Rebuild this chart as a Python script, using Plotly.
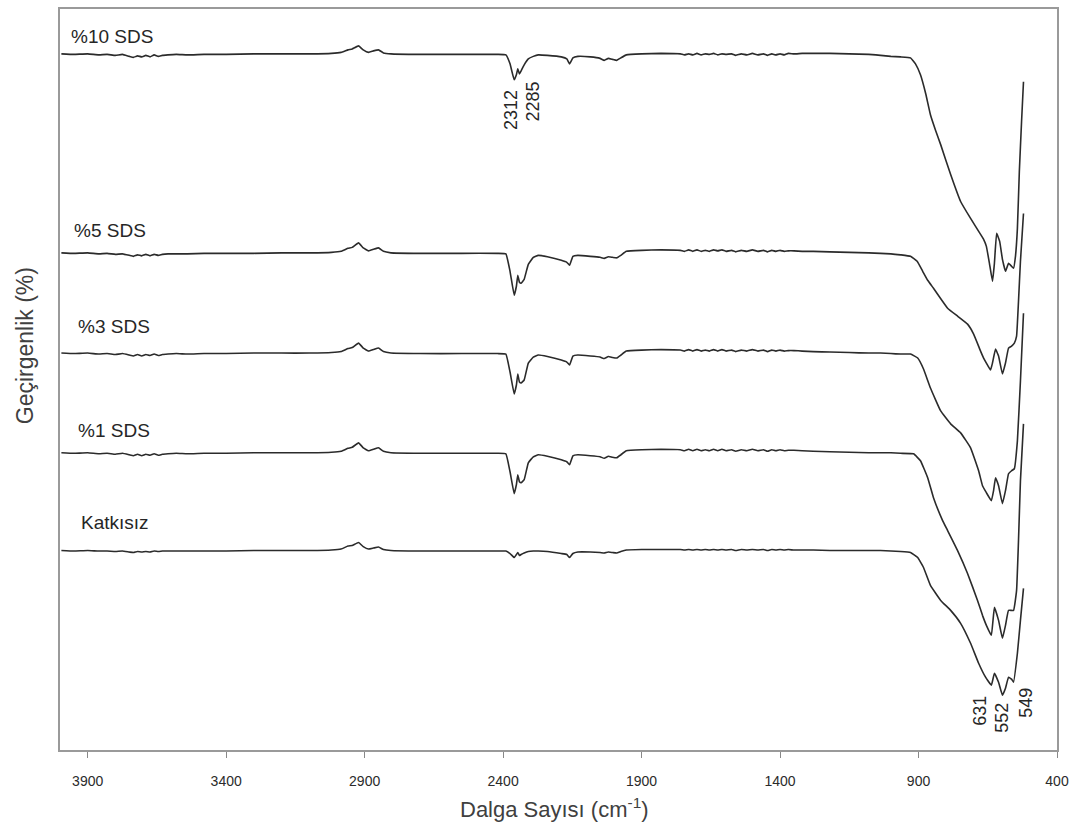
import plotly.graph_objects as go

# Common wavenumber grid for the 4000-1080 cm-1 part (cm-1)
WN_LEFT = [3995, 3950, 3900, 3860, 3830, 3800, 3775, 3750, 3735, 3720, 3705, 3690, 3675, 3660,
           3645, 3630, 3610, 3580, 3540, 3480, 3400, 3300, 3200, 3100, 3020, 2985, 2960, 2945,
           2922, 2905, 2886, 2868, 2850, 2832, 2805, 2700, 2550, 2420, 2390, 2375, 2360, 2352,
           2347, 2341, 2335, 2324, 2309, 2291, 2273, 2240, 2190, 2170, 2160, 2148, 2130, 2085,
           2050, 2035, 2020, 2005, 1990, 1975, 1955, 1900, 1830, 1760, 1745, 1730, 1715, 1700,
           1685, 1670, 1655, 1640, 1625, 1610, 1595, 1575, 1560, 1540, 1520, 1500, 1480, 1460,
           1445, 1430, 1415, 1400, 1385, 1370, 1350, 1320, 1280, 1220, 1150, 1080]

# Transmittance (arbitrary, stacked units) on WN_LEFT
T10_LEFT = [698, 697.5, 698, 697, 697.5, 696.5, 697.5, 695.5, 694.5, 696, 695, 696.5, 695, 697,
            695.5, 696.5, 697, 697.5, 697, 697.5, 697.5, 698, 698, 698, 698.5, 699.5, 702, 703,
            706, 702, 699.5, 701, 702, 699, 698, 697.5, 697.5, 697.5, 697, 688, 672, 677,
            683, 678, 681, 687, 693, 695.5, 697, 696.5, 695, 693, 688, 694, 695.5, 695,
            693.5, 691.5, 693.5, 692.5, 691.5, 694, 697, 698, 698.5, 698, 697, 698, 697, 698.5,
            697, 698, 697.5, 698.5, 697, 698, 697.5, 698, 696.5, 698, 697, 698.5, 697, 698,
            696.5, 698, 697, 698, 697, 698.5, 698, 698.5, 698.5, 698.5, 698, 697.5]
T5_LEFT = [498.5, 498, 498.5, 497.5, 498, 497, 497.5, 496, 495, 496.5, 495.5, 497, 495.5, 497,
           496, 497, 497.5, 497.5, 497.5, 498, 498, 498, 498.5, 498.5, 499, 500, 503, 504,
           508.5, 503.5, 500.5, 502, 503.5, 500, 498.5, 498, 498, 498, 497.5, 480, 456, 465,
           476, 469, 468, 472, 487, 494, 496, 494.5, 491, 489, 486, 495, 496, 495,
           494, 493, 494.5, 494, 493.5, 496, 500, 501, 501.5, 501, 500, 501.5, 500, 501.5,
           500, 501, 500, 501.5, 500.5, 501.5, 500, 501, 499.5, 501, 500, 501.5, 500, 501,
           499.5, 501, 500, 501, 500, 500.5, 500.5, 500, 500, 499.5, 499, 498.5]
T3_LEFT = [398, 397.5, 398, 397, 397.5, 396.5, 397.5, 396, 395, 396.5, 395, 396.5, 395.5, 397,
           395.5, 396.5, 397, 397.5, 397, 397.5, 397.5, 398, 398, 398, 398.5, 399.5, 402.5, 403.5,
           408, 403, 400, 401.5, 403, 399.5, 398, 397.5, 397.5, 397.5, 397, 379, 357, 366,
           377, 369, 368, 371, 388, 394, 396, 394.5, 391, 389, 386, 395, 396, 395,
           394, 392.5, 394.5, 393.5, 393, 396, 400, 401, 401.5, 401, 400, 401.5, 400, 401.5,
           400, 401, 400, 401.5, 400, 401.5, 400, 401, 399.5, 401, 400, 401.5, 400, 401,
           399.5, 401, 400, 401, 400, 400.5, 400.5, 400, 399.5, 399, 398.5, 398]
T1_LEFT = [298, 297.5, 298, 297, 297.5, 296.5, 297.5, 296, 295, 296.5, 295, 296.5, 295.5, 297,
           295.5, 296.5, 297, 297.5, 297, 297.5, 297.5, 298, 298, 298, 298.5, 299.5, 302.5, 303.5,
           308, 303, 300, 301.5, 303, 299.5, 298, 297.5, 297.5, 297.5, 297, 279, 257, 266,
           276, 269, 268, 271, 288, 294, 296, 294.5, 291, 289, 286, 295, 296, 295,
           294, 292.5, 294.5, 293.5, 293, 296, 300, 301, 301.5, 301, 300, 301.5, 300, 301.5,
           300, 301, 300, 301.5, 300, 301.5, 300, 301, 299.5, 301, 300, 301.5, 300, 301,
           299.5, 301, 300, 301, 300, 300.5, 300.5, 300, 299.5, 299, 298.5, 298]
T0_LEFT = [200, 199.5, 200, 199.5, 199.5, 199, 199.5, 198.5, 198, 199, 198.5, 199, 198.5, 199.5,
           199, 199.5, 199.5, 199.5, 199.5, 199.5, 199.5, 200, 200, 200, 200.5, 201.5, 204.5, 205,
           208, 204, 201.5, 202.5, 203.5, 201, 200, 199.5, 199.5, 199.5, 199.5, 197, 193, 196,
           198, 195, 196, 197.5, 199, 199.5, 199.5, 199, 197, 196, 193, 197, 198.5, 198.5,
           198, 197.5, 198.5, 198, 197.5, 199, 200.5, 201, 201, 201, 200.5, 201, 200.5, 201,
           200.5, 201, 200.5, 201, 200.5, 201, 200.5, 201, 200, 201, 200.5, 201, 200.5, 201,
           200, 201, 200.5, 201, 200.5, 201, 200.5, 200.5, 200.5, 200, 200, 200]

# Right-hand part (1040-520 cm-1), per sample
WN10_RIGHT = [1037, 1000, 965, 929, 911, 893, 874, 857, 838, 820, 784, 748, 712, 676, 665, 655,
              644, 633, 626, 618, 607, 597, 586, 575, 564, 557, 550, 543, 536, 528, 521]
T10_RIGHT = [696.5, 695.5, 695, 694, 688, 677, 658, 637, 621, 607, 577, 550, 533, 517, 512, 505,
             488, 470, 488, 518, 510, 492, 480, 488, 485, 483, 495, 523, 580, 630, 670]
WN5_RIGHT = [1037, 1000, 965, 929, 905, 885, 867, 846, 831, 795, 759, 723, 701, 676, 665, 655,
             640, 633, 622, 611, 597, 586, 575, 564, 554, 546, 539, 532, 521]
T5_RIGHT = [498, 497.5, 496.5, 495, 490, 480, 471, 463, 457, 443, 435, 427, 417, 400, 393, 388,
            381, 388, 402, 395, 377, 388, 403, 405, 408, 415, 450, 490, 538]
WN3_RIGHT = [1037, 1000, 965, 929, 903, 882, 857, 820, 784, 748, 712, 683, 669, 655, 637, 629,
             622, 611, 597, 586, 575, 564, 554, 543, 532, 521]
T3_RIGHT = [398, 397.5, 397, 397, 393, 382, 363, 340, 327, 318, 303, 280, 265, 258, 250, 260,
            273, 265, 247, 260, 277, 280, 282, 310, 370, 438]
WN1_RIGHT = [1037, 1000, 965, 918, 893, 867, 846, 813, 795, 759, 723, 687, 669, 655, 637, 626,
             611, 597, 586, 575, 557, 546, 539, 532, 521]
T1_RIGHT = [298, 298, 297.5, 297, 290, 273, 253, 230, 220, 200, 177, 150, 135, 125, 115, 143,
            130, 112, 125, 140, 140, 160, 210, 270, 327]
WN0_RIGHT = [1037, 1000, 965, 929, 903, 882, 857, 820, 784, 748, 712, 683, 658, 637, 626, 611,
             597, 586, 575, 564, 557, 543, 532, 521]
T0_RIGHT = [200, 199.5, 199, 198, 193, 183, 165, 150, 140, 127, 107, 87, 73, 65, 77, 68,
            55, 62, 73, 71, 68, 97, 130, 162]

SERIES_NAMES = ["%10 SDS", "%5 SDS", "%3 SDS", "%1 SDS", "Katkısız"]
SERIES_LEFT = [T10_LEFT, T5_LEFT, T3_LEFT, T1_LEFT, T0_LEFT]
SERIES_WN_RIGHT = [WN10_RIGHT, WN5_RIGHT, WN3_RIGHT, WN1_RIGHT, WN0_RIGHT]
SERIES_T_RIGHT = [T10_RIGHT, T5_RIGHT, T3_RIGHT, T1_RIGHT, T0_RIGHT]

# Label anchor positions (wavenumber, transmittance units)
NAME_POS = [(3966, 715), (3958, 521), (3944, 425), (3944, 320), (3930, 228)]
PEAK_LABELS = ["2312", "2285", "631", "552", "549"]
PEAK_POS = [(2374, 642), (2293, 650), (676, 39), (600, 32), (510, 47)]

XTICKS = [3900, 3400, 2900, 2400, 1900, 1400, 900, 400]

fig = go.Figure()
for name, tl, wr, tr in zip(SERIES_NAMES, SERIES_LEFT, SERIES_WN_RIGHT, SERIES_T_RIGHT):
    fig.add_trace(go.Scatter(
        x=WN_LEFT + wr, y=tl + tr, mode="lines", name=name,
        line=dict(color="#2b2b2b", width=1.6, shape="spline", smoothing=0.3),
        showlegend=False, hoverinfo="skip"))

annotations = []
for name, (x, y) in zip(SERIES_NAMES, NAME_POS):
    annotations.append(dict(x=x, y=y, xref="x", yref="y", text=name, showarrow=False,
                            xanchor="left", yanchor="middle",
                            font=dict(family="Liberation Sans, Arial", size=19, color="#262626")))
for lab, (x, y) in zip(PEAK_LABELS, PEAK_POS):
    annotations.append(dict(x=x, y=y, xref="x", yref="y", text=lab, showarrow=False,
                            textangle=-90, xanchor="center", yanchor="middle",
                            font=dict(family="Liberation Sans, Arial", size=18, color="#262626")))
annotations.append(dict(x=-0.035, y=0.545, xref="paper", yref="paper", text="Geçirgenlik (%)",
                        showarrow=False, textangle=-90, xanchor="center", yanchor="middle",
                        font=dict(family="Liberation Sans, Arial", size=23, color="#404040")))
annotations.append(dict(x=0.496, y=-0.078, xref="paper", yref="paper",
                        text="Dalga Sayısı (cm<sup>-1</sup>)",
                        showarrow=False, xanchor="center", yanchor="middle",
                        font=dict(family="Liberation Sans, Arial", size=22, color="#404040")))

fig.update_layout(
    width=1080, height=834,
    margin=dict(l=60, r=23, t=7, b=84),
    paper_bgcolor="white", plot_bgcolor="white",
    annotations=annotations,
    xaxis=dict(range=[4000, 400], tickvals=XTICKS, ticktext=[str(v) for v in XTICKS],
               ticks="outside", ticklen=6, tickcolor="#888", tickwidth=1.2,
               showline=True, linecolor="#9a9a9a", linewidth=1.5, mirror=True,
               showgrid=False, zeroline=False, ticklabelstandoff=11,
               tickfont=dict(family="Liberation Sans, Arial", size=14, color="#2b2b2b")),
    yaxis=dict(range=[0, 743], showticklabels=False, ticks="",
               showline=True, linecolor="#9a9a9a", linewidth=1.5, mirror=True,
               showgrid=False, zeroline=False),
)

fig.write_html("out.html")
